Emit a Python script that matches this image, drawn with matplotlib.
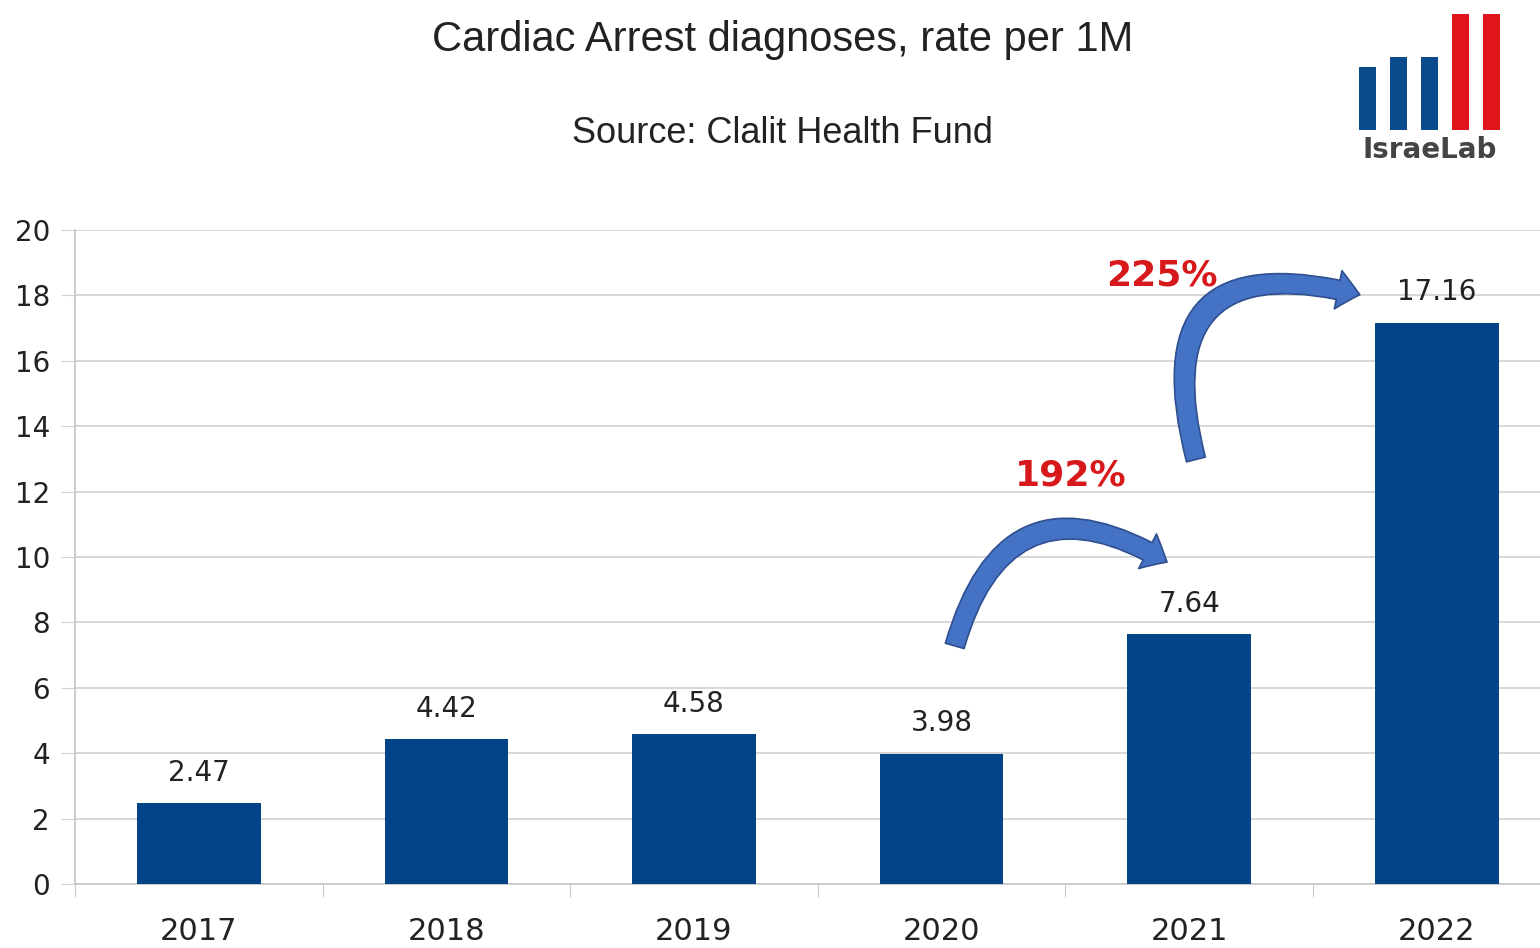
import matplotlib
matplotlib.use("Agg")
import matplotlib.pyplot as plt
from matplotlib.patches import FancyArrowPatch

# chart data
years = ["2017", "2018", "2019", "2020", "2021", "2022"]
rates = [2.47, 4.42, 4.58, 3.98, 7.64, 17.16]
value_labels = ["2.47", "4.42", "4.58", "3.98", "7.64", "17.16"]
yticks = [0, 2, 4, 6, 8, 10, 12, 14, 16, 18, 20]
growth_labels = ["192%", "225%"]

# logo bars (relative heights), 3 blue + 2 red
logo_heights = [61, 71, 71, 113, 113]
logo_colors = ["#0b4a8b", "#0b4a8b", "#0b4a8b", "#e0141b", "#e0141b"]

BAR = "#034488"
GRID = "#d4d4d4"

fig = plt.figure(figsize=(15.4, 9.48), dpi=100)
ax = fig.add_axes([75 / 1540, 1 - 884 / 948, 1465 / 1540, 654 / 948])

x = list(range(len(years)))
ax.bar(x, rates, width=0.5, color=BAR, zorder=3)
for xi, v, lab in zip(x, rates, value_labels):
    ax.annotate(lab, (xi, v), xytext=(0, 12), textcoords="offset points",
                ha="center", va="bottom", fontsize=20, color="#222222",
                family="DejaVu Sans")

ax.set_yticks(yticks)
ax.set_yticklabels([str(t) for t in yticks], fontsize=20, color="#222222")
ax.set_xticks(x)
ax.set_xticklabels(years, fontsize=22, color="#222222")
ax.set_xticks([i + 0.5 for i in range(-1, len(years))], minor=True)
ax.set_xlim(-0.5, 1465 / 247.6 - 0.5)
ax.set_ylim(0, 20)
ax.tick_params(axis="x", which="major", length=0, pad=24)
ax.tick_params(axis="x", which="minor", length=9, color="#bbbbbb", direction="out")
ax.tick_params(axis="y", length=10, color=GRID, pad=8)
ax.grid(axis="y", color=GRID, linewidth=1.3, zorder=0)
for s in ["top", "right"]:
    ax.spines[s].set_visible(False)
ax.spines["left"].set_color("#c8c8c8")
ax.spines["bottom"].set_color("#c8c8c8")
ax.spines["left"].set_linewidth(1.3)
ax.spines["bottom"].set_linewidth(1.3)

# curved growth arrows
arrows = [((3.05, 7.2), (3.92, 9.8), -0.66), ((4.03, 12.9), (4.70, 18.0), -0.85)]
for (p0, p1, rad) in arrows:
    arr = FancyArrowPatch(p0, p1, connectionstyle=f"arc3,rad={rad}",
                          arrowstyle="simple,head_length=16,head_width=28,tail_width=14",
                          facecolor="#4472c4", edgecolor="#2f4f8f", linewidth=1.2,
                          zorder=4, mutation_scale=1)
    ax.add_patch(arr)
ax.text(3.52, 12.5, growth_labels[0], ha="center", va="center", fontsize=26,
        fontweight="bold", color="#d7191c", zorder=5)
ax.text(3.89, 18.62, growth_labels[1], ha="center", va="center", fontsize=26,
        fontweight="bold", color="#d7191c", zorder=5)

# titles
fig.text(0.508, 0.958, "Cardiac Arrest diagnoses, rate per 1M", ha="center", va="center",
         fontsize=30, family="Liberation Sans", color="#222222")
fig.text(0.508, 0.859, "Source: Clalit Health Fund", ha="center", va="center",
         fontsize=26, family="Liberation Sans", color="#222222")

# logo
lax = fig.add_axes([1352 / 1540, 1 - 130 / 948, 155 / 1540, 118 / 948])
lax.bar(range(len(logo_heights)), logo_heights, width=0.55, color=logo_colors)
lax.set_xlim(-0.5, len(logo_heights) - 0.5)
lax.set_ylim(0, 115)
lax.axis("off")
fig.text(1430 / 1540, 1 - 150 / 948, "IsraeLab", ha="center", va="center",
         fontsize=20, fontweight="bold", family="DejaVu Sans", color="#444444")

fig.savefig("out.png", dpi=100)
